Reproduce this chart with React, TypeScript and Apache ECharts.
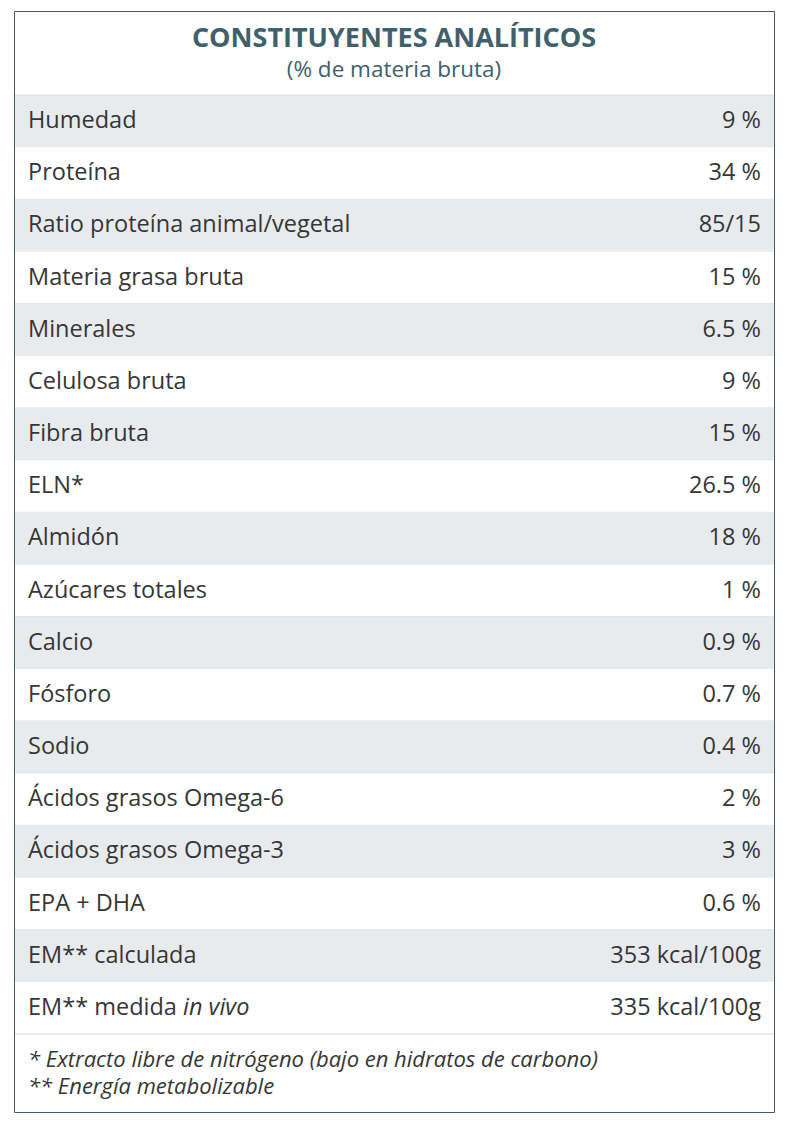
import React, { useEffect, useRef } from "react";
import * as echarts from "echarts";

const titleText = "CONSTITUYENTES ANALÍTICOS";
const subtitleText = "(% de materia bruta)";
const labels = [
  "Humedad",
  "Proteína",
  "Ratio proteína animal/vegetal",
  "Materia grasa bruta",
  "Minerales",
  "Celulosa bruta",
  "Fibra bruta",
  "ELN*",
  "Almidón",
  "Azúcares totales",
  "Calcio",
  "Fósforo",
  "Sodio",
  "Ácidos grasos Omega-6",
  "Ácidos grasos Omega-3",
  "EPA + DHA",
  "EM** calculada",
  "EM** medida {i|in vivo}",
];
const values = [
  "9 %",
  "34 %",
  "85/15",
  "15 %",
  "6.5 %",
  "9 %",
  "15 %",
  "26.5 %",
  "18 %",
  "1 %",
  "0.9 %",
  "0.7 %",
  "0.4 %",
  "2 %",
  "3 %",
  "0.6 %",
  "353 kcal/100g",
  "335 kcal/100g",
];
const footnotes = [
  "* Extracto libre de nitrógeno (bajo en hidratos de carbono)",
  "** Energía metabolizable",
];

const FONT = "'Open Sans', sans-serif";
const TEAL = "#40616b";
const TEXT = "#363636";
const ROW_FS = 23.5;

export default function App() {
  const ref = useRef<HTMLDivElement>(null);
  useEffect(() => {
    const chart = echarts.init(ref.current as HTMLDivElement, null, { renderer: "svg" });
    chart.setOption({
      animation: false,
      backgroundColor: "#ffffff",
      grid: { left: 15, right: 14, top: 95, bottom: 90 },
      xAxis: { type: "value", min: 0, max: 1, show: false },
      yAxis: { type: "category", data: labels, inverse: true, show: false },
      series: [
        {
          type: "custom",
          data: labels.map((l) => [0.5, l]),
          encode: { x: 0, y: 1 },
          renderItem: (params: any, api: any) => {
            const i = params.dataIndex;
            const c = api.coord([0.5, api.value(1)]);
            const band = api.size([0, 1])[1];
            const cs = params.coordSys;
            const x0 = cs.x;
            const w = cs.width;
            const top = c[1] - band / 2;
            const children: any[] = [
              {
                type: "rect",
                shape: { x: x0, y: top, width: w, height: band },
                style: { fill: i % 2 === 0 ? "#e8ebee" : "#ffffff" },
              },
              {
                type: "line",
                shape: { x1: x0, y1: top + band, x2: x0 + w, y2: top + band },
                style: { stroke: "#dddfdc", lineWidth: 1 },
              },
              {
                type: "text",
                x: 28,
                y: c[1] - 2,
                style: {
                  text: labels[i],
                  fill: TEXT,
                  fontSize: ROW_FS,
                  fontFamily: FONT,
                  align: "left",
                  verticalAlign: "middle",
                  rich: {
                    i: { fontStyle: "italic", fontSize: ROW_FS, fontFamily: FONT, fill: TEXT },
                  },
                },
              },
              {
                type: "text",
                x: 761,
                y: c[1] - 2,
                style: {
                  text: values[i],
                  fill: TEXT,
                  fontSize: ROW_FS,
                  fontFamily: FONT,
                  align: "right",
                  verticalAlign: "middle",
                },
              },
            ];
            if (i === 0) {
              children.push({
                type: "line",
                shape: { x1: x0, y1: top, x2: x0 + w, y2: top },
                style: { stroke: "#dddfdc", lineWidth: 1 },
              });
            }
            return { type: "group", children };
          },
        },
      ],
      graphic: [
        {
          type: "text",
          x: 394,
          y: 36.5,
          style: {
            text: titleText,
            fill: TEAL,
            fontSize: 27,
            fontWeight: "bold",
            fontFamily: FONT,
            align: "center",
            verticalAlign: "middle",
          },
        },
        {
          type: "text",
          x: 394,
          y: 68.5,
          style: {
            text: subtitleText,
            fill: TEAL,
            fontSize: 22.5,
            fontFamily: FONT,
            align: "center",
            verticalAlign: "middle",
          },
        },
        ...footnotes.map((t, k) => ({
          type: "text",
          x: 28,
          y: 1057.5 + k * 27,
          style: {
            text: t,
            fill: TEXT,
            fontSize: 22,
            fontStyle: "italic",
            fontFamily: FONT,
            align: "left",
            verticalAlign: "middle",
          },
        })),
        {
          type: "rect",
          z: 100,
          shape: { x: 14.5, y: 11.5, width: 760, height: 1101 },
          style: { fill: "none", stroke: "#3e5d66", lineWidth: 1 },
        },
      ],
    });
    return () => chart.dispose();
  }, []);
  return (
    <div
      ref={ref}
      style={{ position: "absolute", left: 0, top: 0, width: 788, height: 1124 }}
    />
  );
}
